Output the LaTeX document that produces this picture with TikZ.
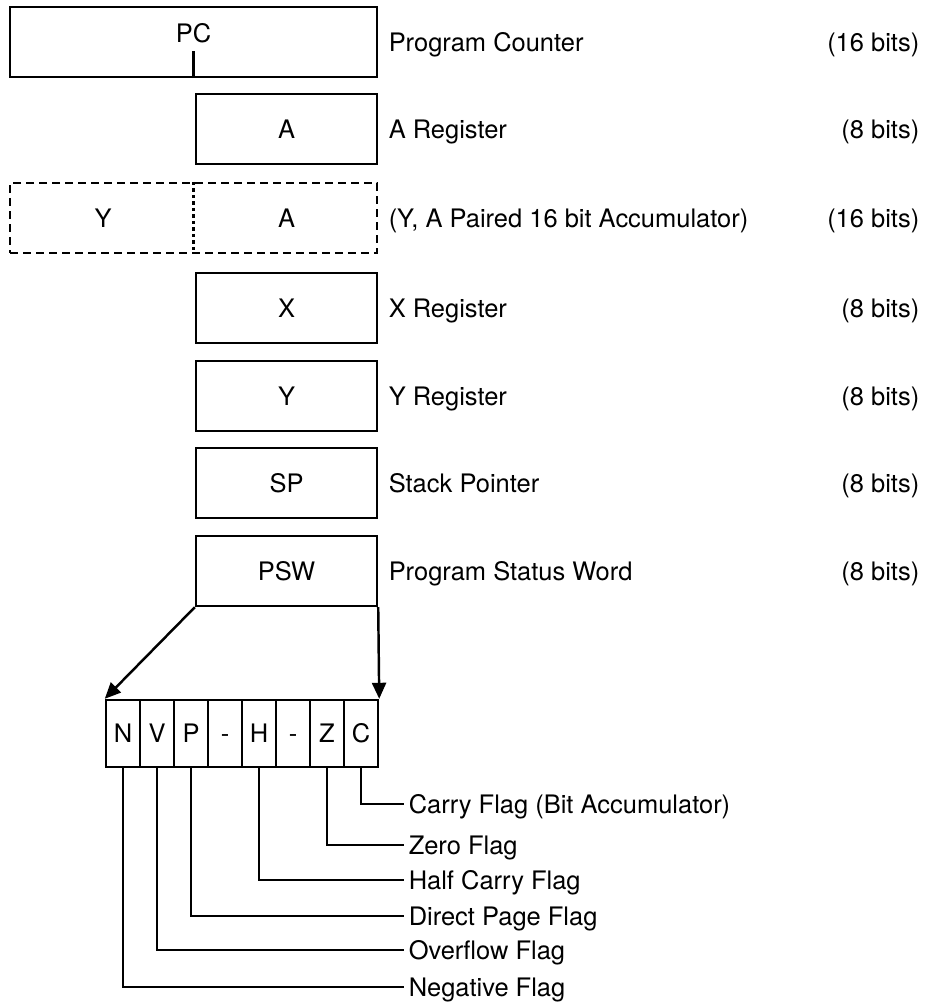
\documentclass[tikz,border=0pt]{standalone}
\usepackage{fontspec}
\setmainfont{TeX Gyre Heros}
\usetikzlibrary{arrows.meta}

\begin{document}
\begin{tikzpicture}[x=0.02cm, y=-0.02cm, line width=1.4pt,
    every node/.append style={font=\fontsize{14.5}{17}\selectfont, text height=10.4pt, text depth=0pt},
    regbox/.style={draw, minimum width=3.62cm, minimum height=1.4cm, inner sep=0pt},
    flagbox/.style={draw, minimum width=0.68cm, minimum height=1.34cm, inner sep=0pt},
    desc/.style={anchor=west, inner sep=2pt},
    bits/.style={anchor=east, inner sep=2pt},
    pairline/.style={dash pattern=on 0.16cm off 0.1cm},
    divider/.style={dash pattern=on 0.07cm off 0.06cm},
    fanout/.style={-{Triangle[length=0.32cm, width=0.28cm]}}]
    \useasboundingbox (0,0) rectangle (927,1003);

    % registers
    \node[regbox, minimum width=7.34cm] (pc) at (193.5,42) {};
    \node (pcname) at (193.5,33) {PC};
    \draw (pc.south) -- ++(0,-27);
    \node[regbox] (areg) at (286.5,129) {A};
    \node[regbox, minimum width=7.34cm, pairline] (pair) at (193.5,218) {};
    \node (pairy) at (103,218) {Y};
    \node (paira) at (286.5,218) {A};
    \draw[divider] (pair.north) -- (pair.south);
    \node[regbox] (xreg) at (286.5,308) {X};
    \node[regbox] (yreg) at (286.5,396) {Y};
    \node[regbox] (sp) at (286.5,483) {SP};
    \node[regbox] (psw) at (286.5,571) {PSW};

    % descriptions
    \node[desc] (pcdesc) at (384,42) {Program Counter};
    \node[desc] (adesc) at (384,129) {A Register};
    \node[desc] (pairdesc) at (384,218) {(Y, A Paired 16 bit Accumulator)};
    \node[desc] (xdesc) at (384,308) {X Register};
    \node[desc] (ydesc) at (384,396) {Y Register};
    \node[desc] (spdesc) at (384,483) {Stack Pointer};
    \node[desc] (pswdesc) at (384,571) {Program Status Word};

    \node[bits] (pcbits) at (924,42) {(16 bits)};
    \node[bits] (abits) at (924,129) {(8 bits)};
    \node[bits] (pairbits) at (924,218) {(16 bits)};
    \node[bits] (xbits) at (924,308) {(8 bits)};
    \node[bits] (ybits) at (924,396) {(8 bits)};
    \node[bits] (spbits) at (924,483) {(8 bits)};
    \node[bits] (pswbits) at (924,571) {(8 bits)};

    % status word bits
    \foreach \f [count=\i from 0] in {N,V,P,-,H,-,Z,C}
        \node[flagbox] (f\i) at (123+34*\i,733.5) {\f};

    \draw[fanout] (psw.south west) -- (f0.north west);
    \draw[fanout] (psw.south east) -- (f7.north east);

    \foreach \i/\y/\name/\txt in {7/804/carry/Carry Flag (Bit Accumulator), 6/845/zero/Zero Flag,
        4/880/half/Half Carry Flag, 2/916/direct/Direct Page Flag,
        1/950/overflow/Overflow Flag, 0/987/negative/Negative Flag}{
        \node[desc] (\name) at (404,\y) {\txt};
        \draw (f\i.south) |- (\name.west);
    }
\end{tikzpicture}
\end{document}
